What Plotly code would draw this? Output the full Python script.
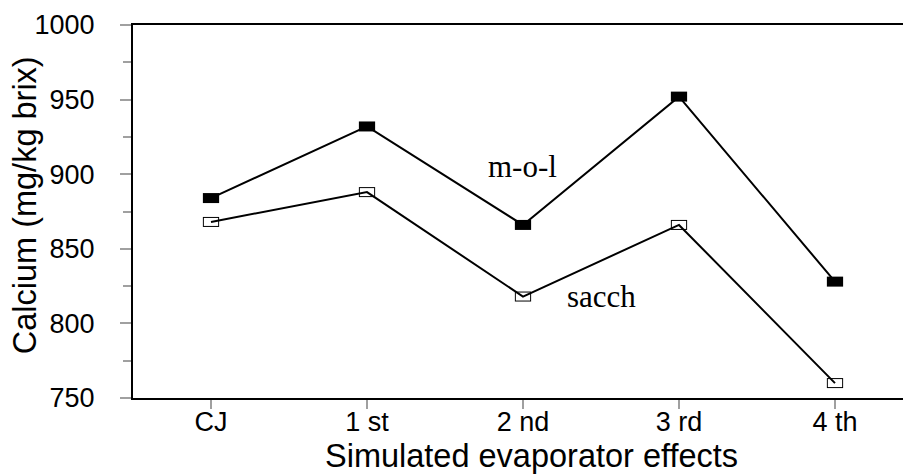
import plotly.graph_objects as go

categories = ["CJ", "1 st", "2 nd", "3 rd", "4 th"]
mol_values = [884, 932, 866, 952, 828]
sacch_values = [868, 888, 818, 866, 760]
y_ticks = [750, 800, 850, 900, 950, 1000]
x_title = "Simulated evaporator effects"
y_title = "Calcium (mg/kg brix)"

xi = list(range(len(categories)))

fig = go.Figure()

# open rectangles: black outline + white interior (drawn below lines)
fig.add_trace(go.Scatter(x=xi, y=sacch_values, mode="markers", hoverinfo="skip",
                         marker=dict(symbol="line-ew", size=11.6, color="black",
                                     line=dict(width=10, color="black")),
                         showlegend=False))
fig.add_trace(go.Scatter(x=xi, y=sacch_values, mode="markers", hoverinfo="skip",
                         marker=dict(symbol="line-ew", size=10.2, color="white",
                                     line=dict(width=8, color="white")),
                         showlegend=False))
# lines
fig.add_trace(go.Scatter(x=xi, y=sacch_values, mode="lines",
                         line=dict(color="black", width=2), showlegend=False))
fig.add_trace(go.Scatter(x=xi, y=mol_values, mode="lines",
                         line=dict(color="black", width=2), showlegend=False))
# filled rectangles
fig.add_trace(go.Scatter(x=xi, y=mol_values, mode="markers",
                         marker=dict(symbol="line-ew", size=11.6, color="black",
                                     line=dict(width=10, color="black")),
                         showlegend=False))

fig.add_annotation(x=2, y=905, text="m-o-l", showarrow=False,
                   font=dict(family="Liberation Serif", size=31, color="black"))
fig.add_annotation(x=2.506, y=818, text="sacch", showarrow=False,
                   font=dict(family="Liberation Serif", size=31, color="black"))

# axis titles
fig.add_annotation(xref="paper", yref="paper", x=0.517, y=-0.156,
                   xanchor="center", yanchor="middle", text=x_title, showarrow=False,
                   font=dict(family="Liberation Sans", size=32.5, color="black"))
fig.add_annotation(xref="paper", yref="paper", x=-0.1406, y=0.516,
                   xanchor="center", yanchor="middle", textangle=-90, text=y_title,
                   showarrow=False,
                   font=dict(family="Liberation Sans", size=32.5, color="black"))

fig.update_layout(
    width=903, height=474,
    margin=dict(l=133, r=0, t=25, b=76),
    paper_bgcolor="white", plot_bgcolor="white",
    font=dict(family="Liberation Sans", color="black"),
)
fig.update_xaxes(
    range=[-0.5, 4.436], automargin=False,
    tickmode="array", tickvals=xi, ticktext=categories,
    showgrid=False, zeroline=False,
    showline=True, linecolor="black", linewidth=2, mirror=True,
    ticks="outside", ticklen=9, tickwidth=1.5, tickcolor="#a0a0a0",
    ticklabelstandoff=-10,
    tickfont=dict(size=27),
)
fig.update_yaxes(
    range=[750, 1000], automargin=False,
    tickmode="array", tickvals=y_ticks,
    showgrid=False, zeroline=False,
    showline=True, linecolor="black", linewidth=2,
    ticks="outside", ticklen=11, tickwidth=1.5, tickcolor="#a0a0a0",
    ticklabelstandoff=20,
    minor=dict(ticks="outside", ticklen=8, tickwidth=1.5, tickcolor="#a0a0a0", dtick=25, tick0=750),
    tickfont=dict(size=27),
)

fig.write_html("out.html")
